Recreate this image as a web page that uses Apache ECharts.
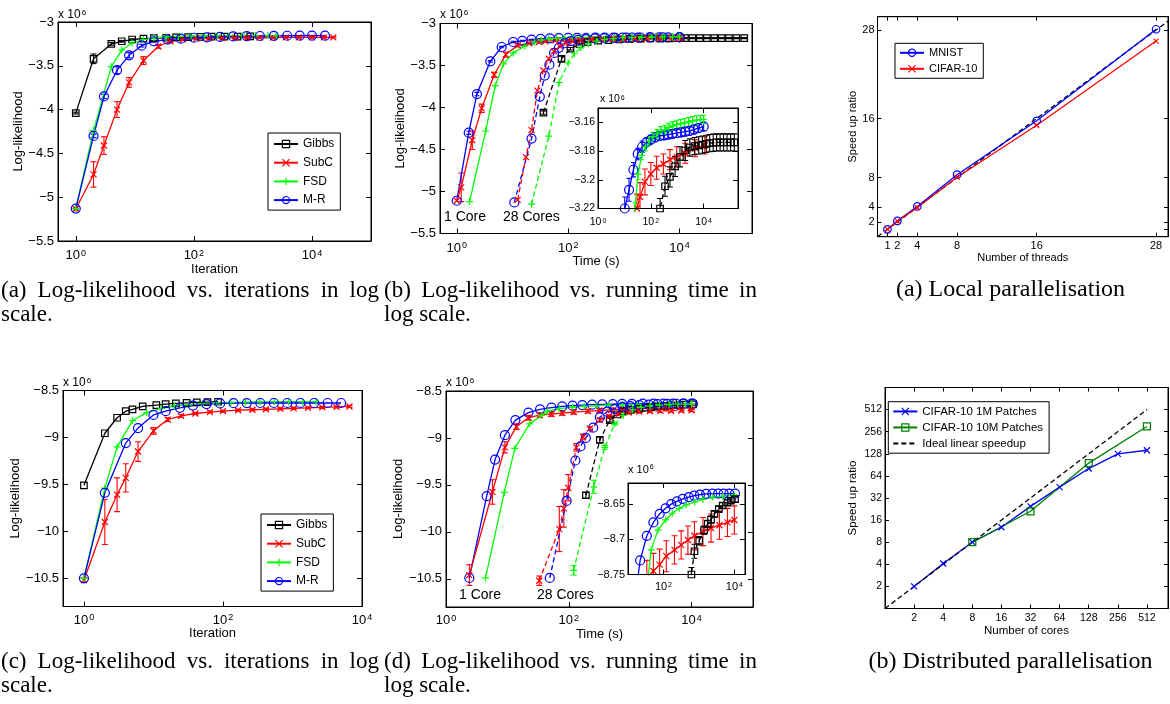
<!DOCTYPE html>
<html><head><meta charset="utf-8">
<script src="https://cdn.jsdelivr.net/npm/echarts@6/dist/echarts.min.js"></script>
<style>html,body{margin:0;padding:0;background:#fff}#c{width:1170px;height:704px}</style>
</head><body><div id="c"></div><script>
// ===== DATA =====
// (a) Log-likelihood vs iterations (x1e6)
const a_gibbs_x = [1,2,4,6,9,14,21,34,50,80,130,200,330,550,900];
const a_gibbs_y = [-4.04,-3.42,-3.25,-3.22,-3.20,-3.19,-3.185,-3.18,-3.175,-3.172,-3.17,-3.168,-3.167,-3.166,-3.165];
const a_gibbs_e = [0.01,0.055,0.015,0.01,0.008,0,0,0,0,0,0,0,0,0,0];
const a_subc_x = [1,2,3,5,8,14,25,40,65,110,180,300,500,800,1300,2200,3600,6000,10000,16000,23000];
const a_subc_y = [-5.135,-4.74,-4.41,-4.00,-3.69,-3.44,-3.28,-3.22,-3.20,-3.19,-3.185,-3.182,-3.18,-3.179,-3.178,-3.177,-3.176,-3.176,-3.175,-3.175,-3.175];
const a_subc_e = [0.01,0.145,0.10,0.09,0.055,0.045,0.02,0.015,0.01,0.01,0.008,0.008,0.008,0.008,0.008,0.008,0.008,0.008,0.008,0.008,0.008];
const a_fsd_x = [1,2,4,6,9,14,21,34,55,90,150,250,400,650,1100,1800,2500];
const a_fsd_y = [-5.13,-4.24,-3.51,-3.32,-3.24,-3.20,-3.18,-3.17,-3.165,-3.16,-3.158,-3.157,-3.156,-3.155,-3.155,-3.155,-3.155];
const a_mr_x = [1,2,3,5,8,13,21,36,60,100,167,278,463,785,1315,2260,3800,6200,10000,16600];
const a_mr_y = [-5.13,-4.30,-3.85,-3.55,-3.38,-3.27,-3.22,-3.20,-3.19,-3.18,-3.175,-3.17,-3.165,-3.162,-3.16,-3.158,-3.157,-3.156,-3.156,-3.156];
const a_mr_e = [0,0.02,0.025,0.04,0.03,0.015,0.01,0,0,0,0,0,0,0,0,0,0,0,0,0];

// (b) Log-likelihood vs running time (x1e6); 1 core solid, 28 cores dashed
const b_mr1_x = [1,1.64,2.3,4,6.4,10.3,15,22,32,47,68,100,145,210,310,450,650,950,1400,2000,2900,4300,6200,10000];
const b_mr1_y = [-5.11,-4.30,-3.84,-3.45,-3.28,-3.22,-3.207,-3.193,-3.182,-3.177,-3.174,-3.172,-3.1705,-3.1695,-3.169,-3.1685,-3.168,-3.1675,-3.167,-3.1665,-3.166,-3.165,-3.164,-3.163];
const b_mr1_e = [0,0.02,0.02,0.01,0.008,0.008,0.008,0.005,0.004,0.004,0.003,0.003,0.003,0.003,0.003,0.003,0.003,0.003,0.003,0.003,0.003,0.003,0.003,0.003];
const b_subc1_x = [1,1.2,1.9,2.8,4.7,7.6,12.4,20,30,39,60,100,166,300,530,960,2000,4700,11000];
const b_subc1_y = [-5.11,-4.95,-4.39,-4.01,-3.61,-3.37,-3.26,-3.235,-3.22,-3.212,-3.2015,-3.196,-3.1916,-3.189,-3.186,-3.184,-3.1815,-3.178,-3.176];
const b_subc1_e = [0,0.17,0.11,0.05,0.03,0.03,0.02,0.012,0.01,0.01,0.009,0.008,0.008,0.007,0.007,0.007,0.007,0.006,0.006];
const b_fsd1_x = [1.7,3.3,4.9,6.9,10.3,16.6,25,33,45,62,85,120,170,240,340,480,680,960,1350,1900,2700,3800,5400,7600,10000];
const b_fsd1_y = [-5.12,-4.28,-3.74,-3.48,-3.35,-3.27,-3.22,-3.196,-3.183,-3.177,-3.173,-3.170,-3.168,-3.166,-3.165,-3.1635,-3.1625,-3.1615,-3.161,-3.1603,-3.1597,-3.159,-3.1585,-3.158,-3.158];
const b_fsd1_e = [0,0,0,0,0,0,0.004,0.004,0.003,0.003,0.003,0.003,0.003,0.003,0.003,0.003,0.003,0.003,0.003,0.003,0.003,0.003,0.003,0.003,0.003];
const b_gibbs_x = [36,76,110,160,224,345,530,830,1270,2000,3000,4500,6500,9000,12500,17000,23000,31000,42000,57000,77000,105000,145000];
const b_gibbs_y = [-4.06,-3.42,-3.30,-3.245,-3.22,-3.2045,-3.198,-3.1907,-3.184,-3.1796,-3.1775,-3.1765,-3.176,-3.1755,-3.175,-3.1745,-3.1742,-3.174,-3.174,-3.174,-3.174,-3.174,-3.174];
const b_gibbs_e = [0.02,0.03,0.015,0.01,0.007,0.007,0.007,0.007,0.007,0.007,0.006,0.006,0.006,0.006,0.006,0.006,0.006,0.006,0.006,0.006,0.006,0.006,0.006];
const b_mr28_x = [10.8,22,31,38,46,56,68,86,112,150,210,300,450,700,1100,1800,3000,5000,10000];
const b_mr28_y = [-5.13,-4.37,-3.87,-3.62,-3.49,-3.35,-3.29,-3.235,-3.21,-3.195,-3.185,-3.178,-3.174,-3.171,-3.169,-3.167,-3.166,-3.165,-3.164];
const b_subc28_x = [12.4,17.5,22,28,36,45,56,70,90,120,170,260,400,650,1000,1600,2600,4200,7000,10000];
const b_subc28_y = [-5.10,-4.59,-4.27,-3.80,-3.56,-3.42,-3.33,-3.27,-3.235,-3.215,-3.20,-3.19,-3.185,-3.182,-3.18,-3.179,-3.178,-3.177,-3.177,-3.176];
const b_fsd28_x = [22,45,69,100,130,170,230,320,450,650,950,1400,2100,3200,5000,7500,10000];
const b_fsd28_y = [-5.15,-4.34,-3.70,-3.47,-3.36,-3.29,-3.24,-3.21,-3.19,-3.18,-3.172,-3.168,-3.165,-3.163,-3.161,-3.16,-3.159];

// (c) Log-likelihood vs iterations (x1e6)
const c_gibbs_x = [1,2,3,4,5,7,11,15,21,30,42,60,85];
const c_gibbs_y = [-9.51,-8.955,-8.79,-8.72,-8.70,-8.67,-8.655,-8.645,-8.638,-8.632,-8.627,-8.623,-8.62];
const c_subc_x = [1,2,3,4,6,10,16,25,40,65,100,165,265,415,670,1040,1670,2680,4300,6600];
const c_subc_y = [-10.52,-9.90,-9.61,-9.43,-9.15,-8.93,-8.81,-8.77,-8.745,-8.73,-8.72,-8.71,-8.705,-8.70,-8.695,-8.69,-8.685,-8.68,-8.675,-8.67];
const c_subc_e = [0.02,0.24,0.18,0.15,0.105,0.035,0.02,0.015,0.01,0.01,0.01,0.01,0.01,0.01,0.01,0.01,0.01,0.01,0.01,0.01];
const c_fsd_x = [1,2,3,5,8,13,20,32,50,80,130,210,340,550,880,1400,2200];
const c_fsd_y = [-10.50,-9.54,-9.10,-8.82,-8.735,-8.69,-8.665,-8.65,-8.64,-8.632,-8.628,-8.625,-8.622,-8.62,-8.62,-8.62,-8.62];
const c_mr_x = [1,2,4,6,10,15,24,37,58,91,142,220,345,540,840,1300,2050,3200,5000];
const c_mr_y = [-10.50,-9.59,-9.06,-8.90,-8.76,-8.72,-8.685,-8.66,-8.645,-8.638,-8.635,-8.634,-8.633,-8.633,-8.633,-8.633,-8.633,-8.633,-8.633];

// (d) Log-likelihood vs running time (x1e6)
const d_mr1_x = [2.4,4.6,6.3,9.1,13.5,22,34,52,78,115,166,240,350,520,740,1070,1600,2400,3500,5000,7200,10500];
const d_mr1_y = [-10.49,-9.62,-9.23,-8.97,-8.81,-8.73,-8.695,-8.676,-8.664,-8.656,-8.650,-8.646,-8.6425,-8.640,-8.638,-8.6364,-8.6354,-8.635,-8.635,-8.635,-8.635,-8.635];
const d_subc1_x = [2.4,5.7,9.1,14,22,34,52,78,120,205,316,490,750,1300,2200,3800,6400,10000];
const d_subc1_y = [-10.46,-9.575,-9.10,-8.88,-8.785,-8.755,-8.745,-8.736,-8.724,-8.715,-8.708,-8.701,-8.695,-8.689,-8.684,-8.68,-8.676,-8.6725];
const d_subc1_e = [0.11,0.13,0.06,0.03,0.025,0.025,0.025,0.022,0.022,0.02,0.02,0.02,0.02,0.02,0.02,0.02,0.02,0.02];
const d_fsd1_x = [4.4,8.9,13.2,23,36,45,70,115,178,280,440,750,1300,2450,4700,10000];
const d_fsd1_y = [-10.49,-9.58,-9.11,-8.85,-8.76,-8.715,-8.687,-8.6725,-8.663,-8.656,-8.651,-8.647,-8.6434,-8.640,-8.639,-8.637];
const d_gibbs_x = [190,320,465,615,750,1020,1400,1780,2200,2750,3650,4700,6400,8000,10500];
const d_gibbs_y = [-9.61,-9.02,-8.81,-8.75,-8.717,-8.702,-8.687,-8.678,-8.672,-8.664,-8.657,-8.652,-8.648,-8.645,-8.643];
const d_gibbs_e = [0.03,0.03,0.02,0.01,0.01,0.006,0.006,0.005,0.005,0.004,0.004,0.004,0.004,0.004,0.004];
const d_mr28_x = [49,92,128,155,189,250,320,420,560,750,1000,1400,2000,2800,4000,5600,7500,10000];
const d_mr28_y = [-10.49,-9.67,-9.24,-9.09,-9.0,-8.89,-8.78,-8.72,-8.69,-8.67,-8.66,-8.65,-8.645,-8.64,-8.638,-8.636,-8.635,-8.635];
const d_subc28_x = [33,70,83,98,133,171,220,318,450,650,950,1400,2100,3100,4600,6800,10000];
const d_subc28_y = [-10.52,-9.97,-9.75,-9.53,-9.10,-8.99,-8.90,-8.81,-8.77,-8.745,-8.73,-8.72,-8.715,-8.712,-8.71,-8.708,-8.705];
const d_subc28_e = [0.05,0.24,0.2,0.14,0.04,0.03,0.02,0.02,0.015,0.015,0.015,0.015,0.015,0.015,0.015,0.015,0.015];
const d_fsd28_x = [120,255,385,560,770,1100,1500,2100,3000,4300,6000,8000,10000];
const d_fsd28_y = [-10.41,-9.52,-9.10,-8.85,-8.76,-8.70,-8.675,-8.66,-8.65,-8.645,-8.64,-8.64,-8.64];
const d_fsd28_e = [0.05,0.07,0.02,0.01,0,0,0,0,0,0,0,0,0];

// Right (a) Local parallelisation
const threads = [1,2,4,8,16,28];
const mnist = [1,2.15,4.1,8.4,15.7,28.1];
const cifar = [1,2.1,3.95,8.05,15.1,26.5];
const idealA = [0,30];
// Right (b) Distributed parallelisation
const cores1m = [2,4,8,16,32,64,128,256,512];
const cifar1m = [2,4.1,8,12.8,24.6,45,80.6,128,143];
const cores10m = [8,32,128,512];
const cifar10m = [8,21.1,95.6,302];
const idealB = [1,512];

// tick labels
const llTicksTop = [-5.5,-5,-4.5,-4,-3.5,-3];
const llTicksBot = [-10.5,-10,-9.5,-9,-8.5];
const insetBTicks = [-3.22,-3.2,-3.18,-3.16];
const insetDTicks = [-8.75,-8.7,-8.65];
const decadeTicks = [1,100,10000];
const insetDXTicks = [100,10000];
const threadTicks = [1,2,4,8,16,28];
const pow2Ticks = [2,4,8,16,32,64,128,256,512];

// ===== BUILD =====
const FONT = '"Liberation Sans", Arial, sans-serif';
const SERIF = '"Liberation Serif", "Times New Roman", serif';
const BLUE='#0000ff', RED='#ff0000', GREEN='#00ff00', BLACK='#000000', DKGREEN='#008000';
const SYM = {
  circle:'path://M10,5A5,5,0,1,1,0,5A5,5,0,1,1,10,5Z',
  square:'path://M0,0L10,0L10,10L0,10Z',
  cross:'path://M0,0L10,10M10,0L0,10',
  plus:'path://M5,0L5,10M0,5L10,5'
};
const grids=[], xAxes=[], yAxes=[], series=[], legends=[], graphics=[];

function fmtNum(v){ return String(Math.round(v*1000)/1000).replace('-', '\u2212'); }
function fmtPow(v){ return '{b|10}{e|' + Math.round(Math.log10(v)) + '}'; }
function fmtInt(v){ return String(Math.round(v)); }
function richPow(fs){
  const es = Math.round(fs*0.68);
  return { b:{fontSize:fs, lineHeight:fs, fontFamily:FONT, color:'#000', fill:'#000', verticalAlign:'bottom', padding:[Math.round(fs*0.55),0,0,0]},
           e:{fontSize:es, lineHeight:es, fontFamily:FONT, color:'#000', fill:'#000', verticalAlign:'top', padding:[0,0,0,1]} };
}
function axis(gi, c, pos, main, z){
  const o = {
    gridIndex:gi, type:c.type, position:pos, min:c.min, max:c.max, z:z,
    axisLine:{show:true, onZero:false, lineStyle:{color:'#000', width:1}},
    axisTick:{show:true, inside:true, length:c.tick||4, customValues:c.ticks, lineStyle:{color:'#000', width:1}},
    axisLabel:{show:main, customValues:c.ticks, margin:c.margin, fontSize:c.fs, fontFamily:FONT, color:'#000', formatter:c.fmt, rich:c.rich},
    splitLine:{show:false}, minorTick:{show:false}, minorSplitLine:{show:false}
  };
  if (c.type==='log') o.logBase = c.base||10;
  if (main && c.name){ o.name=c.name; o.nameLocation='middle'; o.nameGap=c.nameGap; o.nameTextStyle={fontSize:c.nameFs, fontFamily:FONT, color:'#000'}; }
  return o;
}
function panel(g, xc, yc, zb){
  zb = zb||0;
  const gi = grids.length;
  grids.push({left:g[0], top:g[1], width:g[2], height:g[3], show:true, borderColor:'#000', borderWidth:1, backgroundColor: zb? '#fff':'rgba(0,0,0,0)', z:zb});
  const xi = xAxes.length; xAxes.push(axis(gi,xc,'bottom',true,zb+3)); xAxes.push(axis(gi,xc,'top',false,zb+3));
  const yi = yAxes.length; yAxes.push(axis(gi,yc,'left',true,zb+3)); yAxes.push(axis(gi,yc,'right',false,zb+3));
  return {xi, yi, z:zb+1};
}
function addLine(P, name, xs, ys, color, sym, size, dashed, hideSymInLegend){
  series.push({name:name, type:'line', xAxisIndex:P.xi, yAxisIndex:P.yi,
    data: xs.map((x,i)=>[x,ys[i]]),
    symbol: SYM[sym]||SYM.circle, symbolSize: sym? size:0, showSymbol: !!sym,
    lineStyle:{color:color, width:1.3, type: dashed? [5,3]:'solid'},
    itemStyle:{color:'rgba(0,0,0,0)', borderColor: hideSymInLegend? 'rgba(0,0,0,0)':color, borderWidth:1.2},
    emphasis:{disabled:true}, clip:true, z:P.z+1, animation:false, silent:true});
}
function addErr(P, xs, ys, es, color, cap){
  const d = [];
  xs.forEach((x,i)=>{ if (es[i]>0) d.push([x, ys[i]-es[i], ys[i]+es[i]]); });
  series.push({type:'custom', xAxisIndex:P.xi, yAxisIndex:P.yi, data:d, encode:{x:0, y:[1,2]},
    clip:true, z:P.z+1, animation:false, silent:true,
    renderItem:function(params, api){
      const x=api.value(0), lo=api.value(1), hi=api.value(2);
      const a=api.coord([x,lo]), b=api.coord([x,hi]);
      const st={stroke:color, lineWidth:1.1};
      return {type:'group', children:[
        {type:'line', shape:{x1:a[0],y1:a[1],x2:b[0],y2:b[1]}, style:st},
        {type:'line', shape:{x1:a[0]-cap,y1:a[1],x2:a[0]+cap,y2:a[1]}, style:st},
        {type:'line', shape:{x1:b[0]-cap,y1:b[1],x2:b[0]+cap,y2:b[1]}, style:st}]};
    }});
}
function legend(left, top, names, fs, pad, gap){
  legends.push({left:left, top:top, orient:'vertical', data:names, itemWidth:24, itemHeight:9, itemGap:gap,
    padding:pad, borderColor:'#000', borderWidth:1, backgroundColor:'#fff', borderRadius:0, selectedMode:false, z:20,
    itemStyle:{borderWidth:1.2}, textStyle:{fontFamily:FONT, fontSize:fs, color:'#000', lineHeight:fs+2}});
}
function sci(x, y, fs){
  graphics.push({type:'text', x:x, y:y, z:100, style:{text:'{b|x 10}{e|6}', rich:richPow(fs), align:'left', verticalAlign:'bottom', fill:'#000', font:fs+'px '+FONT}});
}
function label(x, y, text, fs, font, align){
  graphics.push({type:'text', x:x, y:y, z:100, style:{text:text, fill:'#000', font:fs+'px '+(font||FONT), align:align||'left', verticalAlign:'middle'}});
}
const mctx = document.createElement('canvas').getContext('2d');
function justify(text, x0, x1, y, fs){
  const words = text.split(' ');
  mctx.font = fs+'px '+SERIF;
  const ws = words.map(w=>mctx.measureText(w).width);
  const tot = ws.reduce((a,b)=>a+b,0);
  const gap = (x1-x0-tot)/(words.length-1);
  let x = x0;
  words.forEach((w,i)=>{ label(x, y, w, fs, SERIF, 'left'); x += ws[i]+gap; });
}

const logX = (min,max,ticks,fs,name,nameGap,margin)=>({type:'log', min:min, max:max, ticks:ticks, fs:fs, fmt:fmtPow, rich:richPow(fs), name:name, nameGap:nameGap, nameFs:13, margin:margin, tick:5});
const linY = (min,max,ticks,fs,name,nameGap,margin)=>({type:'value', min:min, max:max, ticks:ticks, fs:fs, fmt:fmtNum, name:name, nameGap:nameGap, nameFs:13, margin:margin, tick:5});

// Panel (a) top-left
const PA = panel([58,22,313,219], logX(0.5,1e5,decadeTicks,13,'Iteration',22,8), linY(-5.5,-3,llTicksTop,13,'Log-likelihood',33,4));
addLine(PA,'Gibbs',a_gibbs_x,a_gibbs_y,BLACK,'square',6.5);
addErr(PA,a_gibbs_x,a_gibbs_y,a_gibbs_e,BLACK,3);
addLine(PA,'SubC',a_subc_x,a_subc_y,RED,'cross',6);
addErr(PA,a_subc_x,a_subc_y,a_subc_e,RED,3);
addLine(PA,'FSD',a_fsd_x,a_fsd_y,GREEN,'plus',7);
addLine(PA,'M-R',a_mr_x,a_mr_y,BLUE,'circle',9);
addErr(PA,a_mr_x,a_mr_y,a_mr_e,BLUE,3);
legend(268,133,['Gibbs','SubC','FSD','M-R'],12,[4,6,3,5],4.7);
sci(58,21,12);

// Panel (b) top-middle
const PB = panel([440,23.5,312,210], logX(0.5,2e5,decadeTicks,13,'Time (s)',20,8), linY(-5.5,-3,llTicksTop,13,'Log-likelihood',33,4));
function panelB(P){
  addLine(P,'b M-R 1',b_mr1_x,b_mr1_y,BLUE,'circle',9);
  addErr(P,b_mr1_x,b_mr1_y,b_mr1_e,BLUE,2.5);
  addLine(P,'b SubC 1',b_subc1_x,b_subc1_y,RED,'cross',6);
  addErr(P,b_subc1_x,b_subc1_y,b_subc1_e,RED,3);
  addLine(P,'b FSD 1',b_fsd1_x,b_fsd1_y,GREEN,'plus',7);
  addErr(P,b_fsd1_x,b_fsd1_y,b_fsd1_e,GREEN,2.5);
  addLine(P,'b Gibbs',b_gibbs_x,b_gibbs_y,BLACK,'square',6.5,true);
  addErr(P,b_gibbs_x,b_gibbs_y,b_gibbs_e,BLACK,3);
}
panelB(PB);
addLine(PB,'b M-R 28',b_mr28_x,b_mr28_y,BLUE,'circle',9,true);
addLine(PB,'b SubC 28',b_subc28_x,b_subc28_y,RED,'cross',6,true);
addLine(PB,'b FSD 28',b_fsd28_x,b_fsd28_y,GREEN,'plus',7,true);
sci(440,21,12);
label(444,217,'1 Core',14);
label(503,217,'28 Cores',14);
const PBi = panel([598,108,140,100.5], logX(1,2e5,decadeTicks,10.5,null,0,9), linY(-3.22,-3.15,insetBTicks,10.5,null,0,3), 10);
panelB(PBi);
sci(600,105,10.5);

// Panel (c) bottom-left
const PC = panel([63,390.5,299,216], logX(0.5,1e4,decadeTicks,13,'Iteration',20,7), linY(-10.8,-8.5,llTicksBot,13,'Log-likelihood',38,4));
addLine(PC,'Gibbs',c_gibbs_x,c_gibbs_y,BLACK,'square',6.5);
addLine(PC,'SubC',c_subc_x,c_subc_y,RED,'cross',6);
addErr(PC,c_subc_x,c_subc_y,c_subc_e,RED,3);
addLine(PC,'FSD',c_fsd_x,c_fsd_y,GREEN,'plus',7);
addLine(PC,'M-R',c_mr_x,c_mr_y,BLUE,'circle',9);
legend(261,514,['Gibbs','SubC','FSD','M-R'],12,[4,6,3,5],4.7);
sci(63,388.5,12);

// Panel (d) bottom-middle
const PD = panel([446,391,307,216], logX(1,1e5,decadeTicks,13,'Time (s)',19,7), linY(-10.8,-8.5,llTicksBot,13,'Log-likelihood',39,4));
function panelD(P){
  addLine(P,'d M-R 1',d_mr1_x,d_mr1_y,BLUE,'circle',9);
  addLine(P,'d SubC 1',d_subc1_x,d_subc1_y,RED,'cross',6);
  addErr(P,d_subc1_x,d_subc1_y,d_subc1_e,RED,3);
  addLine(P,'d FSD 1',d_fsd1_x,d_fsd1_y,GREEN,'plus',7);
  addLine(P,'d Gibbs',d_gibbs_x,d_gibbs_y,BLACK,'square',6.5,true);
  addErr(P,d_gibbs_x,d_gibbs_y,d_gibbs_e,BLACK,3);
}
panelD(PD);
addLine(PD,'d M-R 28',d_mr28_x,d_mr28_y,BLUE,'circle',9,true);
addLine(PD,'d SubC 28',d_subc28_x,d_subc28_y,RED,'cross',6,true);
addErr(PD,d_subc28_x,d_subc28_y,d_subc28_e,RED,3);
addLine(PD,'d FSD 28',d_fsd28_x,d_fsd28_y,GREEN,'plus',7,true);
addErr(PD,d_fsd28_x,d_fsd28_y,d_fsd28_e,GREEN,3);
sci(446,388.5,12);
label(459,595,'1 Core',14);
label(537,595,'28 Cores',14);
const PDi = panel([628,483,117,91.5], logX(10,2e4,insetDXTicks,11,null,0,7), linY(-8.75,-8.62,insetDTicks,11,null,0,3), 10);
panelD(PDi);
sci(628,475,11);

// Right (a)
const PE = panel([877.5,16.7,290.5,220],
  {type:'value', min:0, max:29.2, ticks:threadTicks, fs:11, fmt:fmtInt, name:'Number of threads', nameGap:15, nameFs:11, margin:4, tick:4},
  {type:'value', min:0, max:29.8, ticks:threadTicks, fs:11, fmt:fmtInt, name:'Speed up ratio', nameGap:19, nameFs:11, margin:3, tick:4});
addLine(PE,'ideal-a',idealA,idealA,BLACK,null,0,true);
addLine(PE,'MNIST',threads,mnist,BLUE,'circle',7.5);
addLine(PE,'CIFAR-10',threads,cifar,RED,'cross',5);
legend(895,43.3,['MNIST','CIFAR-10'],11,[3,6,3,4],3);

// Right (b)
const PF = panel([885,387.5,283,221],
  {type:'log', base:2, min:1, max:846, ticks:pow2Ticks, fs:10.5, fmt:fmtInt, name:'Number of cores', nameGap:14, nameFs:11.5, margin:4, tick:4},
  {type:'log', base:2, min:1, max:1024, ticks:pow2Ticks, fs:10.5, fmt:fmtInt, name:'Speed up ratio', nameGap:26, nameFs:11.5, margin:3, tick:4});
addLine(PF,'CIFAR-10 1M Patches',cores1m,cifar1m,BLUE,'cross',6);
addLine(PF,'CIFAR-10 10M Patches',cores10m,cifar10m,DKGREEN,'square',7);
addLine(PF,'Ideal linear speedup',idealB,idealB,BLACK,null,0,true,true);
legend(888.3,401.7,['CIFAR-10 1M Patches','CIFAR-10 10M Patches','Ideal linear speedup'],11.5,[3,6,3,4],2.5);

// Captions
justify('(a) Log-likelihood vs. iterations in log', 1, 379, 291, 23);
label(1, 315, 'scale.', 23, SERIF);
justify('(b) Log-likelihood vs. running time in', 384, 757, 291, 23);
label(384, 315, 'log scale.', 23, SERIF);
justify('(c) Log-likelihood vs. iterations in log', 1, 379, 662, 23);
label(1, 686, 'scale.', 23, SERIF);
justify('(d) Log-likelihood vs. running time in', 384, 757, 662, 23);
label(384, 686, 'log scale.', 23, SERIF);
label(1010.5, 290, '(a) Local parallelisation', 24, SERIF, 'center');
label(1010.5, 661.7, '(b) Distributed parallelisation', 24, SERIF, 'center');

const chart = echarts.init(document.getElementById('c'), null, {renderer:'canvas'});
chart.setOption({
  animation:false, backgroundColor:'#fff',
  textStyle:{fontFamily:FONT},
  grid:grids, xAxis:xAxes, yAxis:yAxes, series:series, legend:legends, graphic:graphics
});
</script></body></html>
